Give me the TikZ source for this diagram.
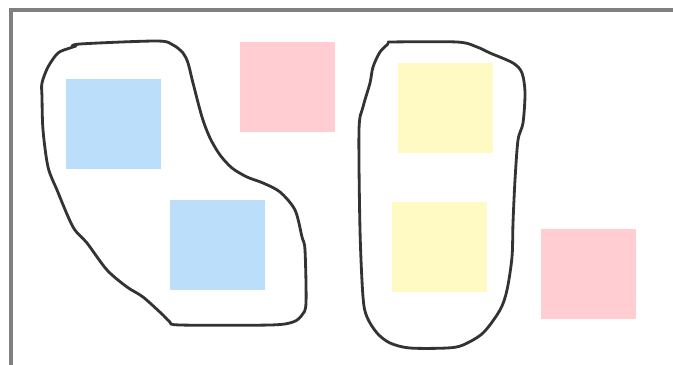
\documentclass[tikz,border=0pt]{standalone}
\usepackage{tikz}
\definecolor{NoteBlue}{HTML}{BBDEFB}
\definecolor{NotePink}{HTML}{FFCDD2}
\definecolor{NoteYellow}{HTML}{FFF9C4}
\definecolor{InkGrey}{HTML}{333333}
\definecolor{FrameGrey}{HTML}{808080}

\begin{document}
\begin{tikzpicture}[x=0.03cm, y=-0.03cm,
  note/.style={inner sep=0pt, minimum width=2.85cm, minimum height=2.7cm},
  lasso/.style={draw=InkGrey, line width=2.4pt, line join=round, line cap=round}]
  \useasboundingbox (0,0) rectangle (673,365);
  % frame edge
  \draw[FrameGrey, line width=4.2pt] (675,10) -- (11,10) -- (11,367);
  % sticky notes
  \node[note, fill=NoteBlue] (blueA) at (113.5,124) {};
  \node[note, fill=NoteBlue] (blueB) at (217,245) {};
  \node[note, fill=NotePink] (pinkA) at (287.5,87) {};
  \node[note, fill=NoteYellow] (yellowA) at (445.5,108) {};
  \node[note, fill=NoteYellow] (yellowB) at (439,247) {};
  \node[note, fill=NotePink] (pinkB) at (588.5,274) {};
  % left lasso round the blue notes
  \draw[lasso] plot[smooth, tension=0.5] coordinates {
    (73,47) (80,44) (157,41) (173,45) (183,53) (188,63) (193,83)
    (202,117) (210,138) (220,155) (232,168) (247,177) (263,183)
    (280,192) (295,210) (302,237) (305,250) (306,303) (302,315)
    (293,322) (270,325) (180,325) (170,322) (163,315) (143,297)
    (127,287) (107,270) (87,243) (73,227) (57,190) (48,167)
    (43,130) (42,97) (42,83) (48,67) (58,53) (70,48) (76,46)};
  % right lasso round the yellow notes
  \draw[lasso] plot[smooth, tension=0.5] coordinates {
    (388,42) (457,42) (477,47) (490,53) (513,63) (522,73) (525,93)
    (523,123) (518,140) (515,180) (513,223) (512,257) (507,290)
    (500,310) (483,333) (463,345) (447,348) (410,348) (390,343)
    (377,333) (367,317) (363,297) (360,230) (359,130) (363,107)
    (370,83) (373,67) (380,52) (388,44)};
\end{tikzpicture}
\end{document}
